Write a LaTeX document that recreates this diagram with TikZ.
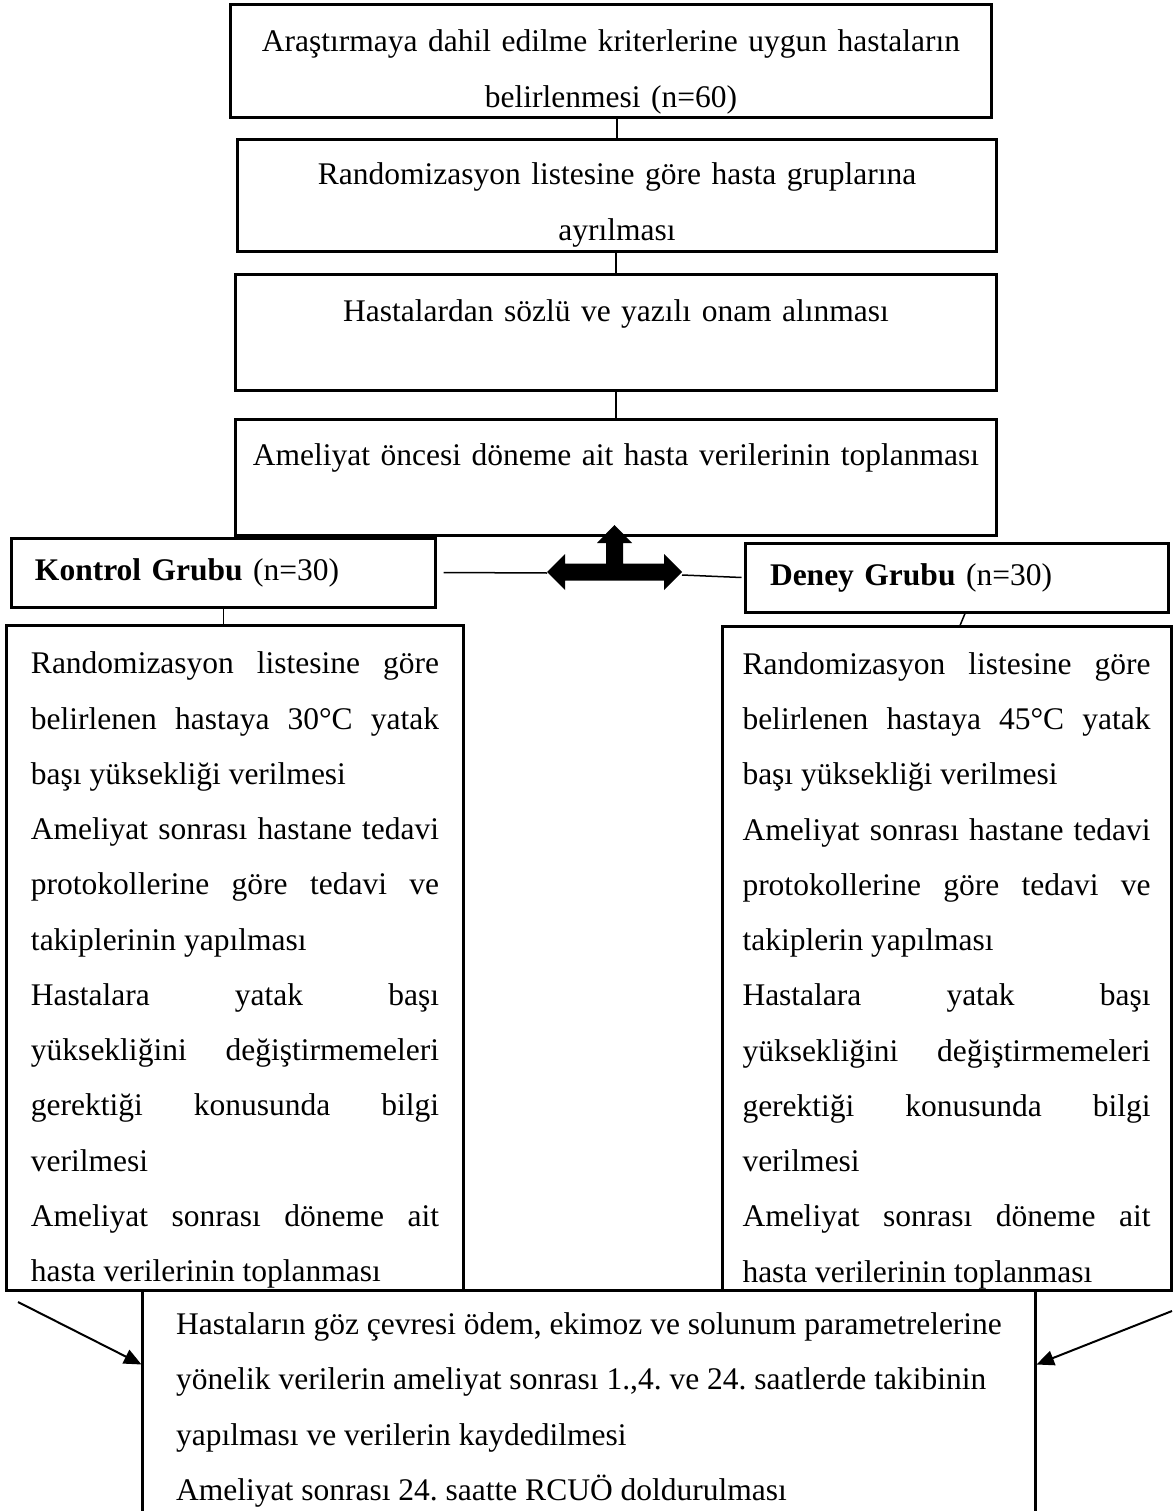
\documentclass[tikz,border=0pt]{standalone}
\usepackage{fontspec}
\setmainfont{Liberation Serif}
\usetikzlibrary{arrows.meta,calc}
\frenchspacing

\begin{document}
\begin{tikzpicture}[x=0.4pt,y=0.4pt,yscale=-1,
  box/.style={draw,line width=1.2pt,inner ysep=0pt,font=\fontsize{12.6}{22.1}\selectfont},
  stepbox/.style={box,inner xsep=0pt,text width=296pt,align=center,font=\fontsize{12.6}{22.4}\selectfont},
  groupbox/.style={box,minimum width=169.2pt,minimum height=27.6pt,inner xsep=9.2pt,text width=150.8pt,align=left},
  listbox/.style={box,inner xsep=0pt,text width=163.2pt,align=justify},
  conn/.style={line width=0.6pt},
  arr/.style={line width=0.8pt,-{Triangle[length=7pt,width=6pt]}}]
\useasboundingbox (0,0) rectangle (1172,1511);

% steps before the split
\node[stepbox,minimum width=304pt,minimum height=45.2pt] (b1) at (611,61.5)
  {\rule{0pt}{16.8pt}Araştırmaya dahil edilme kriterlerine uygun hastaların\\ belirlenmesi (n=60)};
\node[stepbox,minimum width=303.2pt,minimum height=44.8pt] (b2) at (617,196)
  {\rule{0pt}{16pt}Randomizasyon listesine göre hasta gruplarına\\ ayrılması};
\node[stepbox,minimum width=304pt,minimum height=46pt] (b3) at (616,332.5)
  {\rule{0pt}{13.6pt}Hastalardan sözlü ve yazılı onam alınması\\ \mbox{}};
\node[stepbox,minimum width=304pt,minimum height=46pt] (b4) at (616,477.5)
  {\rule{0pt}{12.8pt}Ameliyat öncesi döneme ait hasta verilerinin toplanması\\ \mbox{}};

\draw[conn] (b2.north) -- (b2.north |- b1.south);
\draw[conn] (b3.north) -- (b3.north |- b2.south);
\draw[conn] (b4.north) -- (b4.north |- b3.south);

% groups
\node[groupbox] (kont) at (223.5,572.5) {\textbf{Kontrol Grubu} (n=30)};
\node[groupbox,inner xsep=10pt,text width=149.2pt] (deney) at (956.5,577.5) {\textbf{Deney Grubu} (n=30)};

% split arrow
\coordinate (hub) at (614.5,572);
\coordinate (tipL) at (547,573);
\coordinate (tipR) at (682,575);
\fill (hub) ++(-67.5,0) -- ++(18,-18) -- ++(0,9.5) -- ++(41,0) -- ++(0,-20.5) -- ++(-9,0)
  -- ++(17.5,-18) -- ++(17.5,18) -- ++(-9,0) -- ++(0,20.5) -- ++(41,0) -- ++(0,-9.5)
  -- ++(18,18) -- ++(-18,18) -- ++(0,-9.5) -- ++(-99,0) -- ++(0,9.5) -- cycle;
\draw[conn] ([xshift=2.8pt]kont.east) -- (tipL);
\draw[conn] (tipR) -- ([xshift=-0.8pt]deney.west);

% group procedures
\node[listbox,minimum width=182.4pt,minimum height=265.6pt] (lbox) at (235,958) {%
  \rule{0pt}{18.4pt}Randomizasyon listesine göre\linebreak belirlenen hastaya 30°C yatak\linebreak başı yüksekliği verilmesi\par
  Ameliyat sonrası hastane tedavi\linebreak protokollerine göre tedavi ve\linebreak takiplerinin yapılması\par
  Hastalara yatak başı\linebreak yüksekliğini değiştirmemeleri\linebreak gerektiği konusunda bilgi\linebreak verilmesi\par
  Ameliyat sonrası döneme ait\linebreak hasta verilerinin toplanması};
\node[listbox,minimum width=179.6pt,minimum height=265.2pt] (rbox) at (946.5,958.5) {%
  \rule{0pt}{18.4pt}Randomizasyon listesine göre\linebreak belirlenen hastaya 45°C yatak\linebreak başı yüksekliği verilmesi\par
  Ameliyat sonrası hastane tedavi\linebreak protokollerine göre tedavi ve\linebreak takiplerin yapılması\par
  Hastalara yatak başı\linebreak yüksekliğini değiştirmemeleri\linebreak gerektiği konusunda bilgi\linebreak verilmesi\par
  Ameliyat sonrası döneme ait\linebreak hasta verilerinin toplanması};

\draw[conn] (kont.south) -- (kont.south |- lbox.north);
\draw[conn] ([xshift=3.4pt]deney.south) -- ([xshift=1.4pt]deney.south |- rbox.north);

% follow-up
\node[box,minimum width=356.8pt,minimum height=96pt,inner xsep=0pt,align=left] (bot) at (589,1410)
  {Hastaların göz çevresi ödem, ekimoz ve solunum parametrelerine\\
   yönelik verilerin ameliyat sonrası 1.,4. ve 24. saatlerde takibinin\\
   yapılması ve verilerin kaydedilmesi\\
   Ameliyat sonrası 24. saatte RCUÖ doldurulması};

\coordinate (inL) at (18,1302);
\coordinate (inR) at (1172,1311);
\draw[arr] (inL) -- ($(bot.north west)+(0,76)$);
\draw[arr] (inR) -- ($(bot.north east)+(0,76)$);
\end{tikzpicture}
\end{document}
